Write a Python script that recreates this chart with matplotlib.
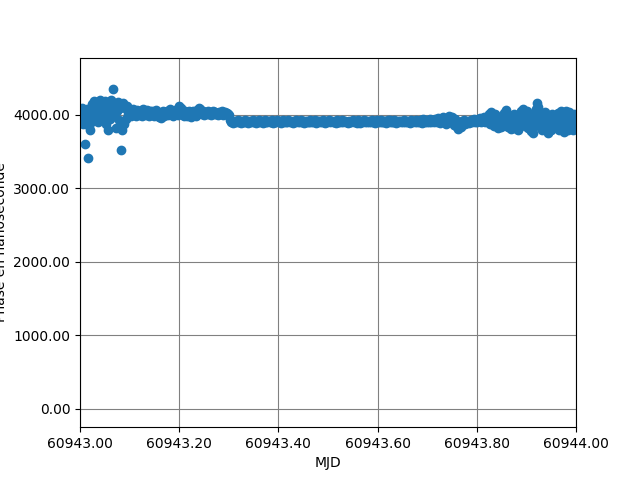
import matplotlib
matplotlib.use('Agg')
import matplotlib.pyplot as plt
import numpy as np
from matplotlib.ticker import FormatStrFormatter

# sampling grid (MJD), one point every 0.002 day
mjd_start = 60943.0
mjd_step = 0.002

# phase values, in nanoseconds
phase_start = [4050, 3950, 4100, 3880, 4000, 3600, 3960, 4080, 3420, 3850,
               3800, 4020, 4150, 3920, 4190, 4060, 3980, 4180, 3900, 4120,
               4200, 4010, 4170, 3950, 4100, 4190, 3880, 4050, 3800, 4150,
               3950, 4200, 4080, 4350, 3990, 4140, 3820, 4060, 4180, 3930,
               4100, 3520, 3790, 4160, 3880, 4090, 3950, 4120, 4010, 4060]
phase_early = [4060, 3990, 4040, 4080, 4010, 4030, 3980, 4070, 4020, 4050,
               4000, 4060, 4030, 3990, 4080, 4020, 4040, 4000, 4070, 4030,
               3990, 4050, 4010, 4060, 4030, 3980, 4040, 4070, 4000, 4030,
               3970, 4020, 3960, 4010, 4050, 3990, 4040, 4020, 4060, 4000,
               4030, 4080, 4010, 4050, 3990, 4040, 4070, 4020, 4030, 4000,
               4120, 4060, 4090, 4010, 4040, 3990, 4060, 4020, 3980, 4030,
               4050, 4000, 3970, 4030, 4060, 4010, 4040, 3990, 4070, 4030,
               4100, 4080, 4050, 4020, 4060, 4000, 4040, 4030, 4010, 4050,
               4020, 4040, 4000, 4030, 4060, 4010, 4040, 4020, 4030, 4000,
               4040, 4010, 4030, 4050, 4000, 4020, 4040, 4010, 4030, 4020,
               4000]
phase_flat = [3930, 3905, 3915, 3895, 3925, 3900, 3920, 3910, 3935, 3900,
              3915, 3895, 3925, 3910, 3900, 3930, 3905, 3920, 3895, 3915,
              3910, 3925, 3900, 3935, 3905, 3915, 3895, 3920, 3910, 3930,
              3900, 3915, 3925, 3895, 3910, 3930, 3905, 3920, 3900, 3915,
              3925, 3905, 3910, 3935, 3895, 3920, 3910, 3900, 3930, 3915,
              3905, 3920, 3895, 3915, 3930, 3900, 3925, 3910, 3905, 3935,
              3915, 3900, 3920, 3910, 3895, 3925, 3905, 3930, 3915, 3900,
              3920, 3910, 3935, 3900, 3915, 3895, 3925, 3905, 3920, 3910,
              3900, 3930, 3910, 3920, 3905, 3915, 3935, 3895, 3910, 3925,
              3915, 3905, 3925, 3900, 3930, 3910, 3895, 3920, 3905, 3915,
              3930, 3900, 3915, 3925, 3910, 3905, 3920, 3895, 3935, 3910,
              3905, 3920, 3910, 3930, 3900, 3915, 3925, 3905, 3910, 3895,
              3925, 3910, 3900, 3915, 3935, 3905, 3920, 3910, 3895, 3930,
              3910, 3895, 3920, 3905, 3915, 3930, 3900, 3925, 3910, 3915,
              3900, 3925, 3910, 3935, 3905, 3915, 3895, 3920, 3930, 3905,
              3920, 3905, 3930, 3910, 3900, 3925, 3915, 3895, 3910, 3935,
              3915, 3930, 3900, 3920, 3910, 3905, 3935, 3915, 3895, 3925,
              3905, 3915, 3925, 3900, 3920, 3910, 3930, 3905, 3915, 3900,
              3925, 3910, 3895, 3930, 3905, 3920, 3915, 3900, 3935, 3910]
phase_late = [3920, 3900, 3935, 3910, 3895, 3940, 3915, 3905, 3930, 3900,
              3925, 3910, 3945, 3900, 3920, 3935, 3905, 3950, 3915, 3900,
              3960, 3930, 3890, 3950, 3920, 3970, 3900, 3940, 3880, 3955,
              3920, 3990, 3950, 3900, 3970, 3930, 3870, 3940, 3850, 3900,
              3810, 3860, 3900, 3840, 3920, 3890, 3930, 3880, 3910, 3900,
              3925, 3895, 3915, 3935, 3905, 3920, 3940, 3910, 3930, 3900,
              3945, 3920, 3960, 3905, 3950, 3930, 3970, 3910, 3955, 3940]
phase_end = [3950, 4020, 3880, 4040, 3900, 3990, 3850, 4010, 3930, 3870,
             3820, 3960, 3900, 3840, 3990, 3880, 4030, 3930, 4070, 3960,
             3830, 4000, 3900, 3810, 3950, 3870, 4010, 3820, 3940, 3880,
             3980, 3800, 3910, 3860, 4050, 3940, 4080, 3990, 3850, 3920,
             4060, 3820, 3970, 3890, 3780, 4000, 3760, 3930, 3850, 4080,
             4170, 4110, 3950, 3880, 4020, 3800, 3960, 3840, 4040, 3910,
             3990, 3760, 3870, 3950, 3790, 4010, 3890, 3830, 3980, 3920,
             3850, 4030, 3800, 3950, 4060, 3890, 3990, 3770, 3940, 4050,
             3880, 3790, 4040, 3960, 3820, 3990, 3790, 4020, 3900]

phase = np.array(phase_start + phase_early + phase_flat + phase_late + phase_end, dtype=float)
mjd = mjd_start + mjd_step * np.arange(len(phase))

fig, ax = plt.subplots(figsize=(6.4, 4.8), dpi=100)
ax.plot(mjd, phase, 'o')
ax.grid(color='gray')

ax.set_xlim(60943.0, 60944.0)
ax.set_ylim(-248, 4781)
ax.set_xticks(np.arange(60943.0, 60944.01, 0.2))
ax.set_yticks([0, 1000, 2000, 3000, 4000])
ax.xaxis.set_major_formatter(FormatStrFormatter('%.2f'))
ax.yaxis.set_major_formatter(FormatStrFormatter('%.2f'))

ax.set_xlabel('MJD')
ax.set_ylabel('Phase en nanoseconde')

fig.savefig('out.png')
